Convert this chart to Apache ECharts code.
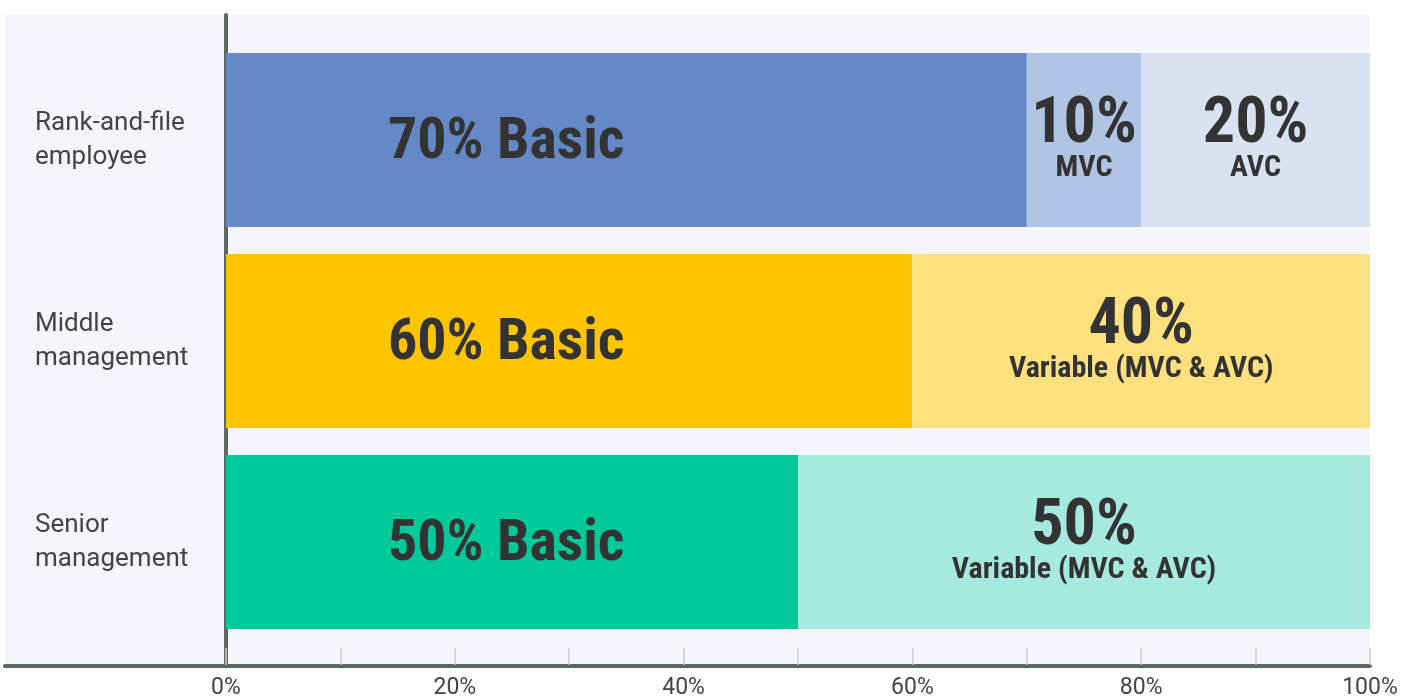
<!DOCTYPE html>
<html>
<head>
<meta charset="utf-8">
<script src="https://cdn.jsdelivr.net/npm/echarts@6/dist/echarts.min.js"></script>
<style>
html,body{margin:0;padding:0;background:#ffffff;}
#chart{width:1416px;height:700px;}
</style>
</head>
<body>
<div id="chart"></div>
<script>
const categories = ['Rank-and-file\nemployee', 'Middle\nmanagement', 'Senior\nmanagement'];
const basicValues = [70, 60, 50];
const mvcValues = [10, '-', '-'];
const avcValues = [20, '-', '-'];
const variableValues = ['-', 40, 50];

const basicColors = ['#6489c6', '#fdc500', '#00c99a'];
const mvcColors = ['#b0c4e3', null, null];
const avcColors = ['#d9e2f1', null, null];
const variableColors = [null, '#fee17f', '#a5eadd'];

const textDark = '#333333';
const axisDark = '#5f6763';
const condFamily = 'Roboto';
const condWeight = 'bold condensed';

function colored(values, colors) {
  return values.map((v, i) => ({ value: v, itemStyle: { color: colors[i] || '#ccc' } }));
}

const bigSmallRich = {
  big: { fontFamily: condFamily, fontWeight: condWeight, fontSize: 64, color: textDark, lineHeight: 50, align: 'center' },
  small: { fontFamily: condFamily, fontWeight: condWeight, fontSize: 30, color: textDark, lineHeight: 34, align: 'center' }
};

const chart = echarts.init(document.getElementById('chart'), null, { renderer: 'canvas' });

const option = {
  animation: false,
  backgroundColor: '#ffffff',
  grid: [
    { left: 5, right: 46, top: 15, bottom: 34, show: true, backgroundColor: '#f5f6fa', borderWidth: 0 },
    { left: 226, right: 46, top: 15, bottom: 34 },
    { left: 226, right: 46, top: 39.5, bottom: 57.5 }
  ],
  xAxis: [
    { gridIndex: 0, type: 'value', min: 0, max: 100,
      axisLine: { show: true, lineStyle: { color: axisDark, width: 4 } },
      axisTick: { show: false }, axisLabel: { show: false }, splitLine: { show: false } },
    { gridIndex: 1, type: 'value', min: 0, max: 100, interval: 10,
      axisLine: { show: false },
      axisTick: { show: true, inside: true, length: 17, lineStyle: { color: '#cccccc', width: 1.5 } },
      axisLabel: { show: true, margin: 12, fontFamily: 'Roboto, sans-serif', fontSize: 23, color: '#444444',
        formatter: v => (v % 20 === 0 ? v + '%' : '') },
      splitLine: { show: false } },
    { gridIndex: 2, type: 'value', min: 0, max: 100, show: false }
  ],
  yAxis: [
    { gridIndex: 0, type: 'value', show: false },
    { gridIndex: 1, type: 'value', min: 0, max: 1,
      axisLine: { show: true, lineStyle: { color: axisDark, width: 4 } },
      axisTick: { show: false }, axisLabel: { show: false }, splitLine: { show: false } },
    { gridIndex: 2, type: 'category', data: categories, inverse: true,
      axisLine: { show: false }, axisTick: { show: false }, splitLine: { show: false },
      axisLabel: { show: true, align: 'left', margin: 191, fontFamily: 'Roboto, sans-serif', fontSize: 26,
        lineHeight: 34, color: '#444444' } }
  ],
  series: [
    { name: 'Basic', type: 'bar', stack: 'total', xAxisIndex: 2, yAxisIndex: 2, barWidth: 174,
      data: colored(basicValues, basicColors),
      label: { show: true, position: [162, '50%'], align: 'left', verticalAlign: 'middle', offset: [0, 3],
        formatter: '{c}% Basic', fontFamily: condFamily, fontWeight: condWeight, fontSize: 58, color: textDark } },
    { name: 'MVC', type: 'bar', stack: 'total', xAxisIndex: 2, yAxisIndex: 2, barWidth: 174,
      data: colored(mvcValues, mvcColors),
      label: { show: true, position: 'inside', offset: [0, 3], formatter: '{big|{c}%}\n{small|MVC}', rich: bigSmallRich } },
    { name: 'AVC', type: 'bar', stack: 'total', xAxisIndex: 2, yAxisIndex: 2, barWidth: 174,
      data: colored(avcValues, avcColors),
      label: { show: true, position: 'inside', offset: [0, 3], formatter: '{big|{c}%}\n{small|AVC}', rich: bigSmallRich } },
    { name: 'Variable', type: 'bar', stack: 'total', xAxisIndex: 2, yAxisIndex: 2, barWidth: 174,
      data: colored(variableValues, variableColors),
      label: { show: true, position: 'inside', offset: [0, 3], formatter: '{big|{c}%}\n{small|Variable (MVC & AVC)}', rich: bigSmallRich } }
  ]
};
chart.setOption(option);
</script>
</body>
</html>
